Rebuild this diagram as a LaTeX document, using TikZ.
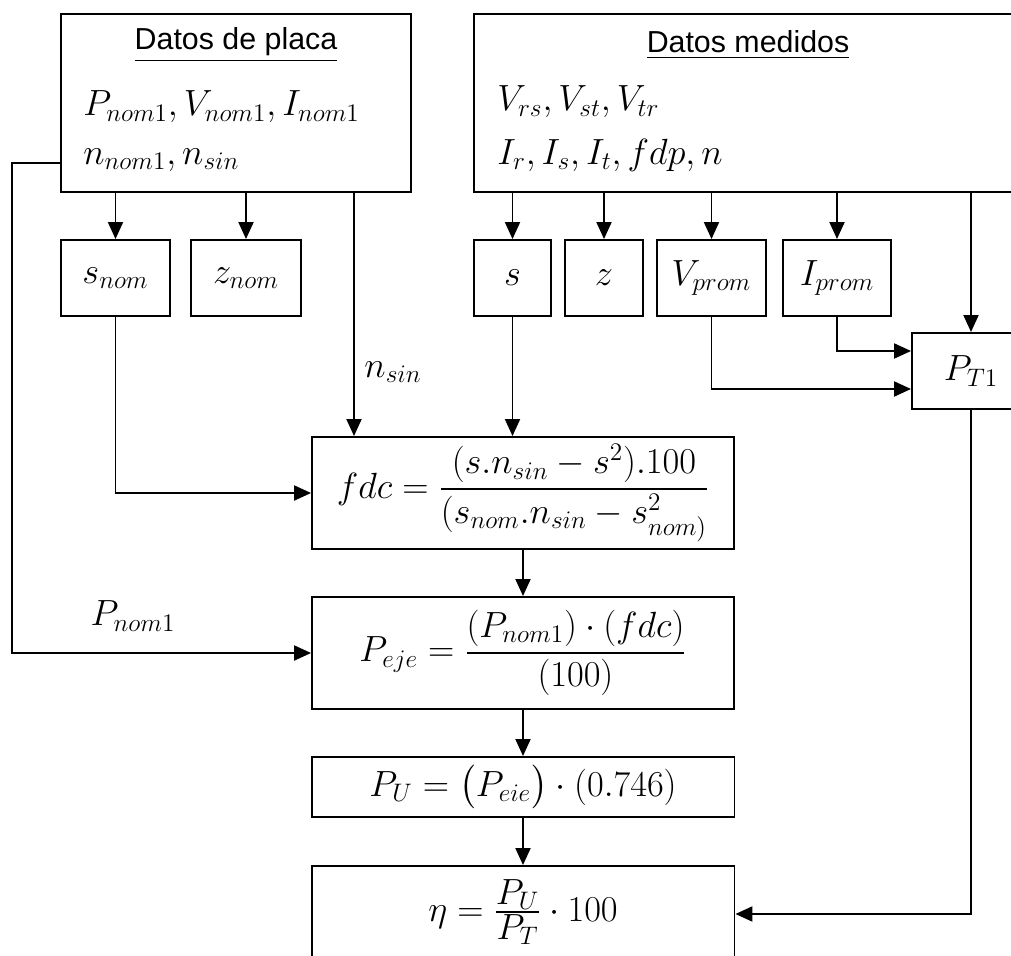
\documentclass[tikz,border=0pt]{standalone}
\usepackage{amsmath}
\usepackage{fontspec}
\newfontfamily\headfont{Liberation Sans}
\usetikzlibrary{arrows.meta}

\begin{document}
\begin{tikzpicture}[x=0.02cm, y=-0.02cm,
        caja/.style={draw, black, line width=1.1pt, inner sep=0pt, font=\huge},
        txt/.style={inner sep=0pt, font=\huge},
        arr/.style={black, line width=1.1pt, -{Triangle[length=0.34cm, width=0.3cm]}}]
    \useasboundingbox (0,0) rectangle (1011,956);
    \clip (0,0) rectangle (1011,956);

    \node[caja, minimum width=7cm, minimum height=3.56cm] (placa) at (236,103) {};
    \node[txt] (placahead) at (236,45) {\LARGE\headfont\underline{Datos de placa}};
    \node[txt, anchor=west] (placa1) at (83,107) {$P_{nom1}, V_{nom1}, I_{nom1}$};
    \node[txt, anchor=west] (placa2) at (83,160) {$n_{nom1}, n_{sin}$};

    \node[caja, minimum width=10.96cm, minimum height=3.56cm] (medidos) at (748,103) {};
    \node[txt] (medhead) at (748,45) {\LARGE\headfont\underline{Datos medidos}};
    \node[txt, anchor=west] (med1) at (497,102) {$V_{rs}, V_{st}, V_{tr}$};
    \node[txt, anchor=west] (med2) at (497,155) {$I_r, I_s, I_t, fdp, n$};

    \node[caja, minimum width=2.18cm, minimum height=1.52cm] (snom) at (115.5,278) {$s_{nom}$};
    \node[caja, minimum width=2.2cm, minimum height=1.52cm] (znom) at (246,278) {$z_{nom}$};
    \node[caja, minimum width=1.54cm, minimum height=1.52cm] (s) at (512.5,278) {$s$};
    \node[caja, minimum width=1.56cm, minimum height=1.52cm] (z) at (604,278) {$z$};
    \node[caja, minimum width=2.18cm, minimum height=1.52cm] (vprom) at (711.5,278) {$V_{prom}$};
    \node[caja, minimum width=2.16cm, minimum height=1.52cm] (iprom) at (837,278) {$I_{prom}$};
    \node[caja, minimum width=2.36cm, minimum height=1.52cm] (pt1) at (971,371) {$P_{T1}$};

    \node[caja, minimum width=8.44cm, minimum height=2.24cm] (fdc) at (523,493)
        {$fdc=\dfrac{(s.n_{sin}-s^{2}).100}{(s_{nom}.n_{sin}-s^{2}_{nom)}}$};
    \node[caja, minimum width=8.44cm, minimum height=2.24cm] (peje) at (523,653)
        {$P_{eje}=\dfrac{(P_{nom1})\cdot(fdc)}{(100)}$};
    \node[caja, minimum width=8.46cm, minimum height=1.2cm] (pu) at (523,787)
        {$P_U=\bigl(P_{eie}\bigr)\cdot(0.746)$};
    \node[caja, minimum width=8.46cm, minimum height=1.92cm] (eta) at (523,914) {};
    \node[txt] (etaform) at (523,912)
        {$\eta=\frac{\displaystyle P_U}{\displaystyle P_T}\cdot 100$};

    \node[txt] (lblnsin) at (393,372) {$n_{sin}$};
    \node[txt] (lblpnom) at (133,616) {$P_{nom1}$};

    \coordinate (nsin) at (354,0);
    \coordinate (pnom) at (12,163);

    \foreach \b in {snom,znom}
        \draw[arr] (\b.north |- placa.south) -- (\b.north);
    \draw[arr] (placa.south -| nsin) -- (fdc.north -| nsin);
    \draw[arr] (placa.west |- pnom) -- (pnom) |- (peje.west);
    \draw[arr] (snom.south) |- (fdc.west);

    \foreach \b in {s,z,vprom,iprom,pt1}
        \draw[arr] (\b.north |- medidos.south) -- (\b.north);
    \draw[arr] (s.south) -- (s.south |- fdc.north);
    \draw[arr] (iprom.south) |- ([yshift=0.4cm]pt1.west);
    \draw[arr] (vprom.south) |- ([yshift=-0.36cm]pt1.west);
    \draw[arr] (pt1.south) |- (eta.east);

    \draw[arr] (fdc) -- (peje);
    \draw[arr] (peje) -- (pu);
    \draw[arr] (pu) -- (eta);
\end{tikzpicture}
\end{document}
